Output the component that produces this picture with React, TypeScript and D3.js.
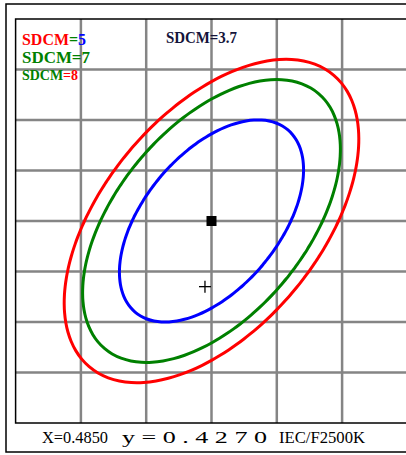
import React from "react";
import * as d3 from "d3";

// target chromaticity (square) and the measured one (cross)
const center: [number, number] = [0.4852, 0.4296];
const measured: [number, number] = [0.485, 0.427];
const gridStep = 0.002;

// MacAdam metric for 1 SDCM: g11, g12, g22
const gMetric = [4.23e6, -1.51e6, 2.1e6];

const sdcmSteps = [5, 7, 8];
const stepColors = ["#0000ff", "#008000", "#ff0000"];
const targetLabel = "SDCM=3.7";
const lampLabel = "IEC/F2500K";

const width = 406;
const height = 455;
const font = "'Liberation Serif', 'Times New Roman', serif";

export default function App() {
  const x = d3
    .scaleLinear()
    .domain([center[0] - 3 * gridStep, center[0] + 3 * gridStep])
    .range([15.6, 407.4]);
  const y = d3
    .scaleLinear()
    .domain([center[1] - 4 * gridStep, center[1] + 4 * gridStep])
    .range([423, 19]);

  const xGrid = d3.range(-2, 3).map((k) => center[0] + k * gridStep);
  const yGrid = d3.range(-3, 4).map((k) => center[1] + k * gridStep);

  const [g11, g12, g22] = gMetric;
  const angles = d3.range(0, 360, 3).map((d) => (d * Math.PI) / 180);
  const ellipse = (n: number) =>
    angles.map((a) => {
      const c = Math.cos(a);
      const s = Math.sin(a);
      const r = n / Math.sqrt(g11 * c * c + 2 * g12 * c * s + g22 * s * s);
      return [center[0] + r * c, center[1] + r * s] as [number, number];
    });

  const line = d3
    .line<[number, number]>()
    .x((d) => x(d[0]))
    .y((d) => y(d[1]))
    .curve(d3.curveCardinalClosed);

  const cx = x(center[0]);
  const cy = y(center[1]);
  const mx = x(measured[0]);
  const my = y(measured[1]);

  return (
    <svg
      width={width}
      height={height}
      style={{ position: "absolute", left: 0, top: 0, background: "#fff" }}
    >
      {/* outer frame */}
      <rect x={6} y={4} width={420} height={448} fill="none" stroke="#000" strokeWidth={1.5} />

      {/* grid */}
      <g stroke="#858585" strokeWidth={2.5}>
        {xGrid.map((d, i) => (
          <line key={"x" + i} x1={x(d)} x2={x(d)} y1={y.range()[0]} y2={y.range()[1]} />
        ))}
        {yGrid.map((d, i) => (
          <line key={"y" + i} x1={x.range()[0]} x2={x.range()[1]} y1={y(d)} y2={y(d)} />
        ))}
      </g>
      <rect
        x={x.range()[0]}
        y={y.range()[1]}
        width={x.range()[1] - x.range()[0] + 3}
        height={y.range()[0] - y.range()[1]}
        fill="none"
        stroke="#000"
        strokeWidth={1.5}
      />

      {/* SDCM ellipses */}
      {sdcmSteps.map((n, i) => (
        <path key={n} d={line(ellipse(n)) || ""} fill="none" stroke={stepColors[i]} strokeWidth={3} />
      ))}

      {/* target and measured point */}
      <rect x={cx - 5} y={cy - 5} width={10} height={10} fill="#000" />
      <g stroke="#000" strokeWidth={1.3}>
        <line x1={mx - 6} x2={mx + 6} y1={my} y2={my} />
        <line x1={mx} x2={mx} y1={my - 6} y2={my + 6} />
      </g>

      {/* legend */}
      <g fontFamily={font} fontWeight="bold">
        <text x={22} y={45} fontSize={16} textLength={64} lengthAdjust="spacingAndGlyphs">
          <tspan fill={stepColors[2]}>SDCM</tspan>
          <tspan fill={stepColors[1]}>=</tspan>
          <tspan fill={stepColors[0]}>{sdcmSteps[0]}</tspan>
        </text>
        <text x={22} y={63} fontSize={16} textLength={68} lengthAdjust="spacingAndGlyphs" fill={stepColors[1]}>
          {"SDCM=" + sdcmSteps[1]}
        </text>
        <text x={22} y={80} fontSize={14} textLength={56} lengthAdjust="spacingAndGlyphs">
          <tspan fill={stepColors[1]}>SDCM</tspan>
          <tspan fill={stepColors[2]}>{"=" + sdcmSteps[2]}</tspan>
        </text>
        <text x={166} y={43} fontSize={17} textLength={71} lengthAdjust="spacingAndGlyphs" fill="#14143a">
          {targetLabel}
        </text>
      </g>

      {/* readout */}
      <g fontFamily={font} fill="#000">
        <text x={42} y={443} fontSize={16} textLength={66} lengthAdjust="spacingAndGlyphs">
          {"X=" + measured[0].toFixed(4)}
        </text>
        <text x={122} y={443} fontSize={17} textLength={145} lengthAdjust="spacingAndGlyphs">
          {"y = " + measured[1].toFixed(4).split("").join(" ")}
        </text>
        <text x={279} y={443} fontSize={16} textLength={86} lengthAdjust="spacingAndGlyphs">
          {lampLabel}
        </text>
      </g>
    </svg>
  );
}
